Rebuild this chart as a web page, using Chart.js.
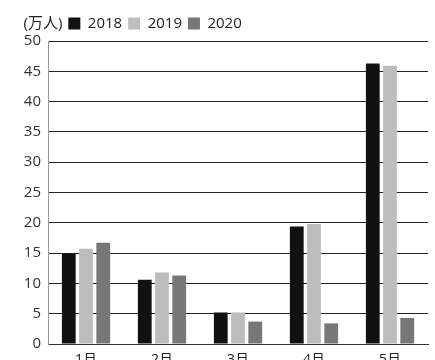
<!DOCTYPE html>
<html>
<head>
<meta charset="utf-8">
<script src="https://cdn.jsdelivr.net/npm/chart.js@4/dist/chart.umd.min.js"></script>
<style>
  html, body { margin: 0; padding: 0; background: #fff; }
  #wrap { width: 435px; height: 360px; }
</style>
</head>
<body>
<div id="wrap"><canvas id="chart" width="435" height="360"></canvas></div>
<script>
// data (万人)
const months = ['1月', '2月', '3月', '4月', '5月'];
const years = ['2018', '2019', '2020'];
const v2018 = [14.9, 10.6, 5.2, 19.4, 46.3];
const v2019 = [15.7, 11.8, 5.2, 19.8, 45.9];
const v2020 = [16.7, 11.3, 3.7, 3.4, 4.3];
const unitLabel = '(万人)';

const colors = ['#111111', '#bdbdbd', '#777777'];
const font = "'Open Sans', 'Noto Sans CJK JP', sans-serif";

new Chart(document.getElementById('chart'), {
    type: 'bar',
    data: {
        labels: months,
        datasets: [v2018, v2019, v2020].map((vals, i) => ({
            label: years[i],
            data: vals,
            backgroundColor: colors[i],
            categoryPercentage: 0.68,
            barPercentage: 0.8
        }))
    },
    options: {
        responsive: false,
        animation: false,
        layout: { padding: { left: -2, right: 7, top: 10, bottom: -10 } },
        plugins: {
            tooltip: { enabled: false },
            legend: {
                align: 'start',
                labels: {
                    boxWidth: 12,
                    boxHeight: 12,
                    padding: 6,
                    color: '#222',
                    font: { family: font, size: 15 },
                    generateLabels: chart => {
                        const items = Chart.defaults.plugins.legend.labels.generateLabels(chart);
                        return [{
                            text: unitLabel,
                            fillStyle: 'rgba(0,0,0,0)',
                            strokeStyle: 'rgba(0,0,0,0)',
                            lineWidth: 0,
                            fontColor: '#222',
                            datasetIndex: -1
                        }].concat(items);
                    }
                }
            }
        },
        scales: {
            x: {
                grid: { display: false },
                border: { color: '#333' },
                ticks: { color: '#222', font: { family: font, size: 14 }, padding: 0 }
            },
            y: {
                min: 0,
                max: 50,
                afterFit: scale => { scale.width = 50; },
                ticks: { stepSize: 5, color: '#333', font: { family: font, size: 15 }, padding: 7 },
                grid: { color: '#222', lineWidth: 1, drawTicks: false },
                border: { color: '#999' }
            }
        }
    }
});
</script>
</body>
</html>
